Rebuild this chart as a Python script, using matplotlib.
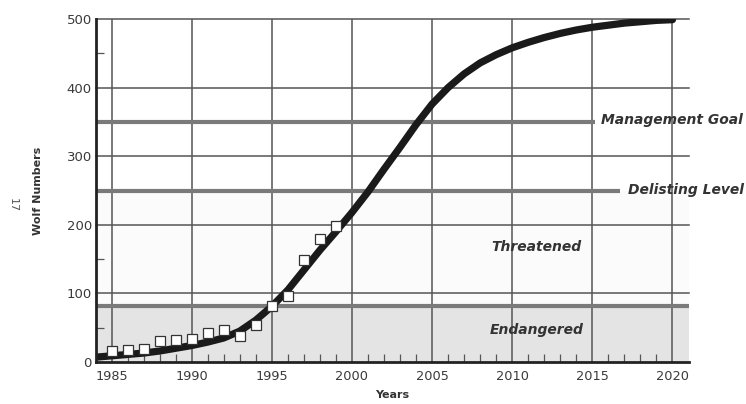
import matplotlib
matplotlib.use("Agg")
import matplotlib.pyplot as plt
import numpy as np

# ---- data ----
obs_years = [1985, 1986, 1987, 1988, 1989, 1990, 1991, 1992, 1993, 1994,
             1995, 1996, 1997, 1998, 1999]
obs_wolves = [16, 17, 19, 30, 32, 34, 42, 47, 38, 54, 81, 96, 149, 179, 198]

curve_years = [1984, 1985, 1986, 1987, 1988, 1989, 1990, 1991, 1992, 1993,
               1994, 1995, 1996, 1997, 1998, 1999, 2000, 2001, 2002, 2003,
               2004, 2005, 2006, 2007, 2008, 2009, 2010, 2011, 2012, 2013,
               2014, 2015, 2016, 2017, 2018, 2019, 2020]
curve_wolves = [7, 9, 11, 13, 16, 20, 24, 29, 35, 45,
                61, 81, 105, 134, 163, 190, 218, 248, 281, 313,
                346, 376, 400, 420, 436, 448, 458, 466, 473, 479,
                484, 488, 491, 494, 496, 498, 499]

management_goal = 350
delisting_level = 250
endangered_level = 82

x_ticks = [1985, 1990, 1995, 2000, 2005, 2010, 2015, 2020]
y_ticks = [0, 100, 200, 300, 400, 500]

# ---- figure ----
fig = plt.figure(figsize=(7.46, 4.04), dpi=100)
fig.patch.set_facecolor("white")
ax = fig.add_axes([96/746, 1-362/404, (689-96)/746, (362-19)/404])
ax.set_facecolor("white")
ax.set_xlim(1984.03, 2021.03)
ax.set_ylim(0, 500)

grid_c = "#555555"
# shaded zones
ax.axhspan(0, endangered_level, color="#e4e4e4", zorder=0, lw=0)
ax.axhspan(endangered_level, delisting_level, color="#fbfbfb", zorder=0, lw=0)

# grid lines
for xv in x_ticks:
    ax.axvline(xv, color=grid_c, lw=1.1, zorder=1)
for yv in y_ticks[1:]:
    ax.axhline(yv, color=grid_c, lw=1.1, zorder=1, clip_on=False)

# level lines
ax.axhline(endangered_level, color="#7a7a7a", lw=3.0, zorder=2)
x0 = ax.get_xlim()[0]
ax.plot([x0, 2015.16], [management_goal]*2, color="#7a7a7a", lw=3.0, zorder=2,
        solid_capstyle="butt")
ax.plot([x0, 2016.72], [delisting_level]*2, color="#7a7a7a", lw=3.0, zorder=2,
        solid_capstyle="butt")

# curve and observations
ax.plot(curve_years, curve_wolves, color="#1a1a1a", lw=5.2, zorder=4,
        solid_capstyle="round", solid_joinstyle="round")
ax.plot(obs_years, obs_wolves, ls="none", marker="s", markersize=7.8,
        markerfacecolor="white", markeredgecolor="#333333", markeredgewidth=0.9,
        zorder=5)

# labels on plot
txt_kw = dict(fontsize=10, fontweight="bold", fontstyle="italic", color="#333333",
              family="DejaVu Sans")
ax.text(2015.53, management_goal + 3, "Management Goal", ha="left", va="center",
        clip_on=False, **txt_kw)
ax.text(2017.2, delisting_level + 1, "Delisting Level", ha="left", va="center",
        clip_on=False, **txt_kw)
ax.text(2011.5, 168, "Threatened", ha="center", va="center", **txt_kw)
ax.text(2011.5, 46, "Endangered", ha="center", va="center", **txt_kw)

# spines
for s in ["top", "right"]:
    ax.spines[s].set_visible(False)
for s in ["left", "bottom"]:
    ax.spines[s].set_linewidth(2.0)
    ax.spines[s].set_color("#222222")
    ax.spines[s].set_zorder(6)

# ticks
ax.set_xticks(x_ticks)
ax.set_xticklabels([str(v) for v in x_ticks])
ax.set_yticks(y_ticks)
ax.set_yticklabels([str(v) for v in y_ticks])
ax.set_xticks(np.arange(1985, 2021), minor=True)
ax.set_yticks(np.arange(50, 500, 100), minor=True)
ax.tick_params(axis="both", which="major", length=0, colors="#3a3a3a")
ax.tick_params(axis="x", which="major", labelsize=9.3, pad=6)
ax.tick_params(axis="y", which="major", labelsize=9.5, pad=3)
ax.tick_params(axis="x", which="minor", direction="in", length=5.5, width=0.9,
               color=grid_c)
ax.tick_params(axis="y", which="minor", direction="in", length=6, width=0.9,
               color=grid_c)

ax.set_xlabel("Years", fontsize=8, fontweight="bold", color="#333333", labelpad=5)
ax.set_ylabel("Wolf Numbers", fontsize=8, fontweight="bold", color="#333333",
              labelpad=17)

fig.text(13/746, 1-205/404, "17", rotation=-90, fontsize=8, color="#555555",
         ha="center", va="center")

fig.savefig("out.png", dpi=100, facecolor="white")
